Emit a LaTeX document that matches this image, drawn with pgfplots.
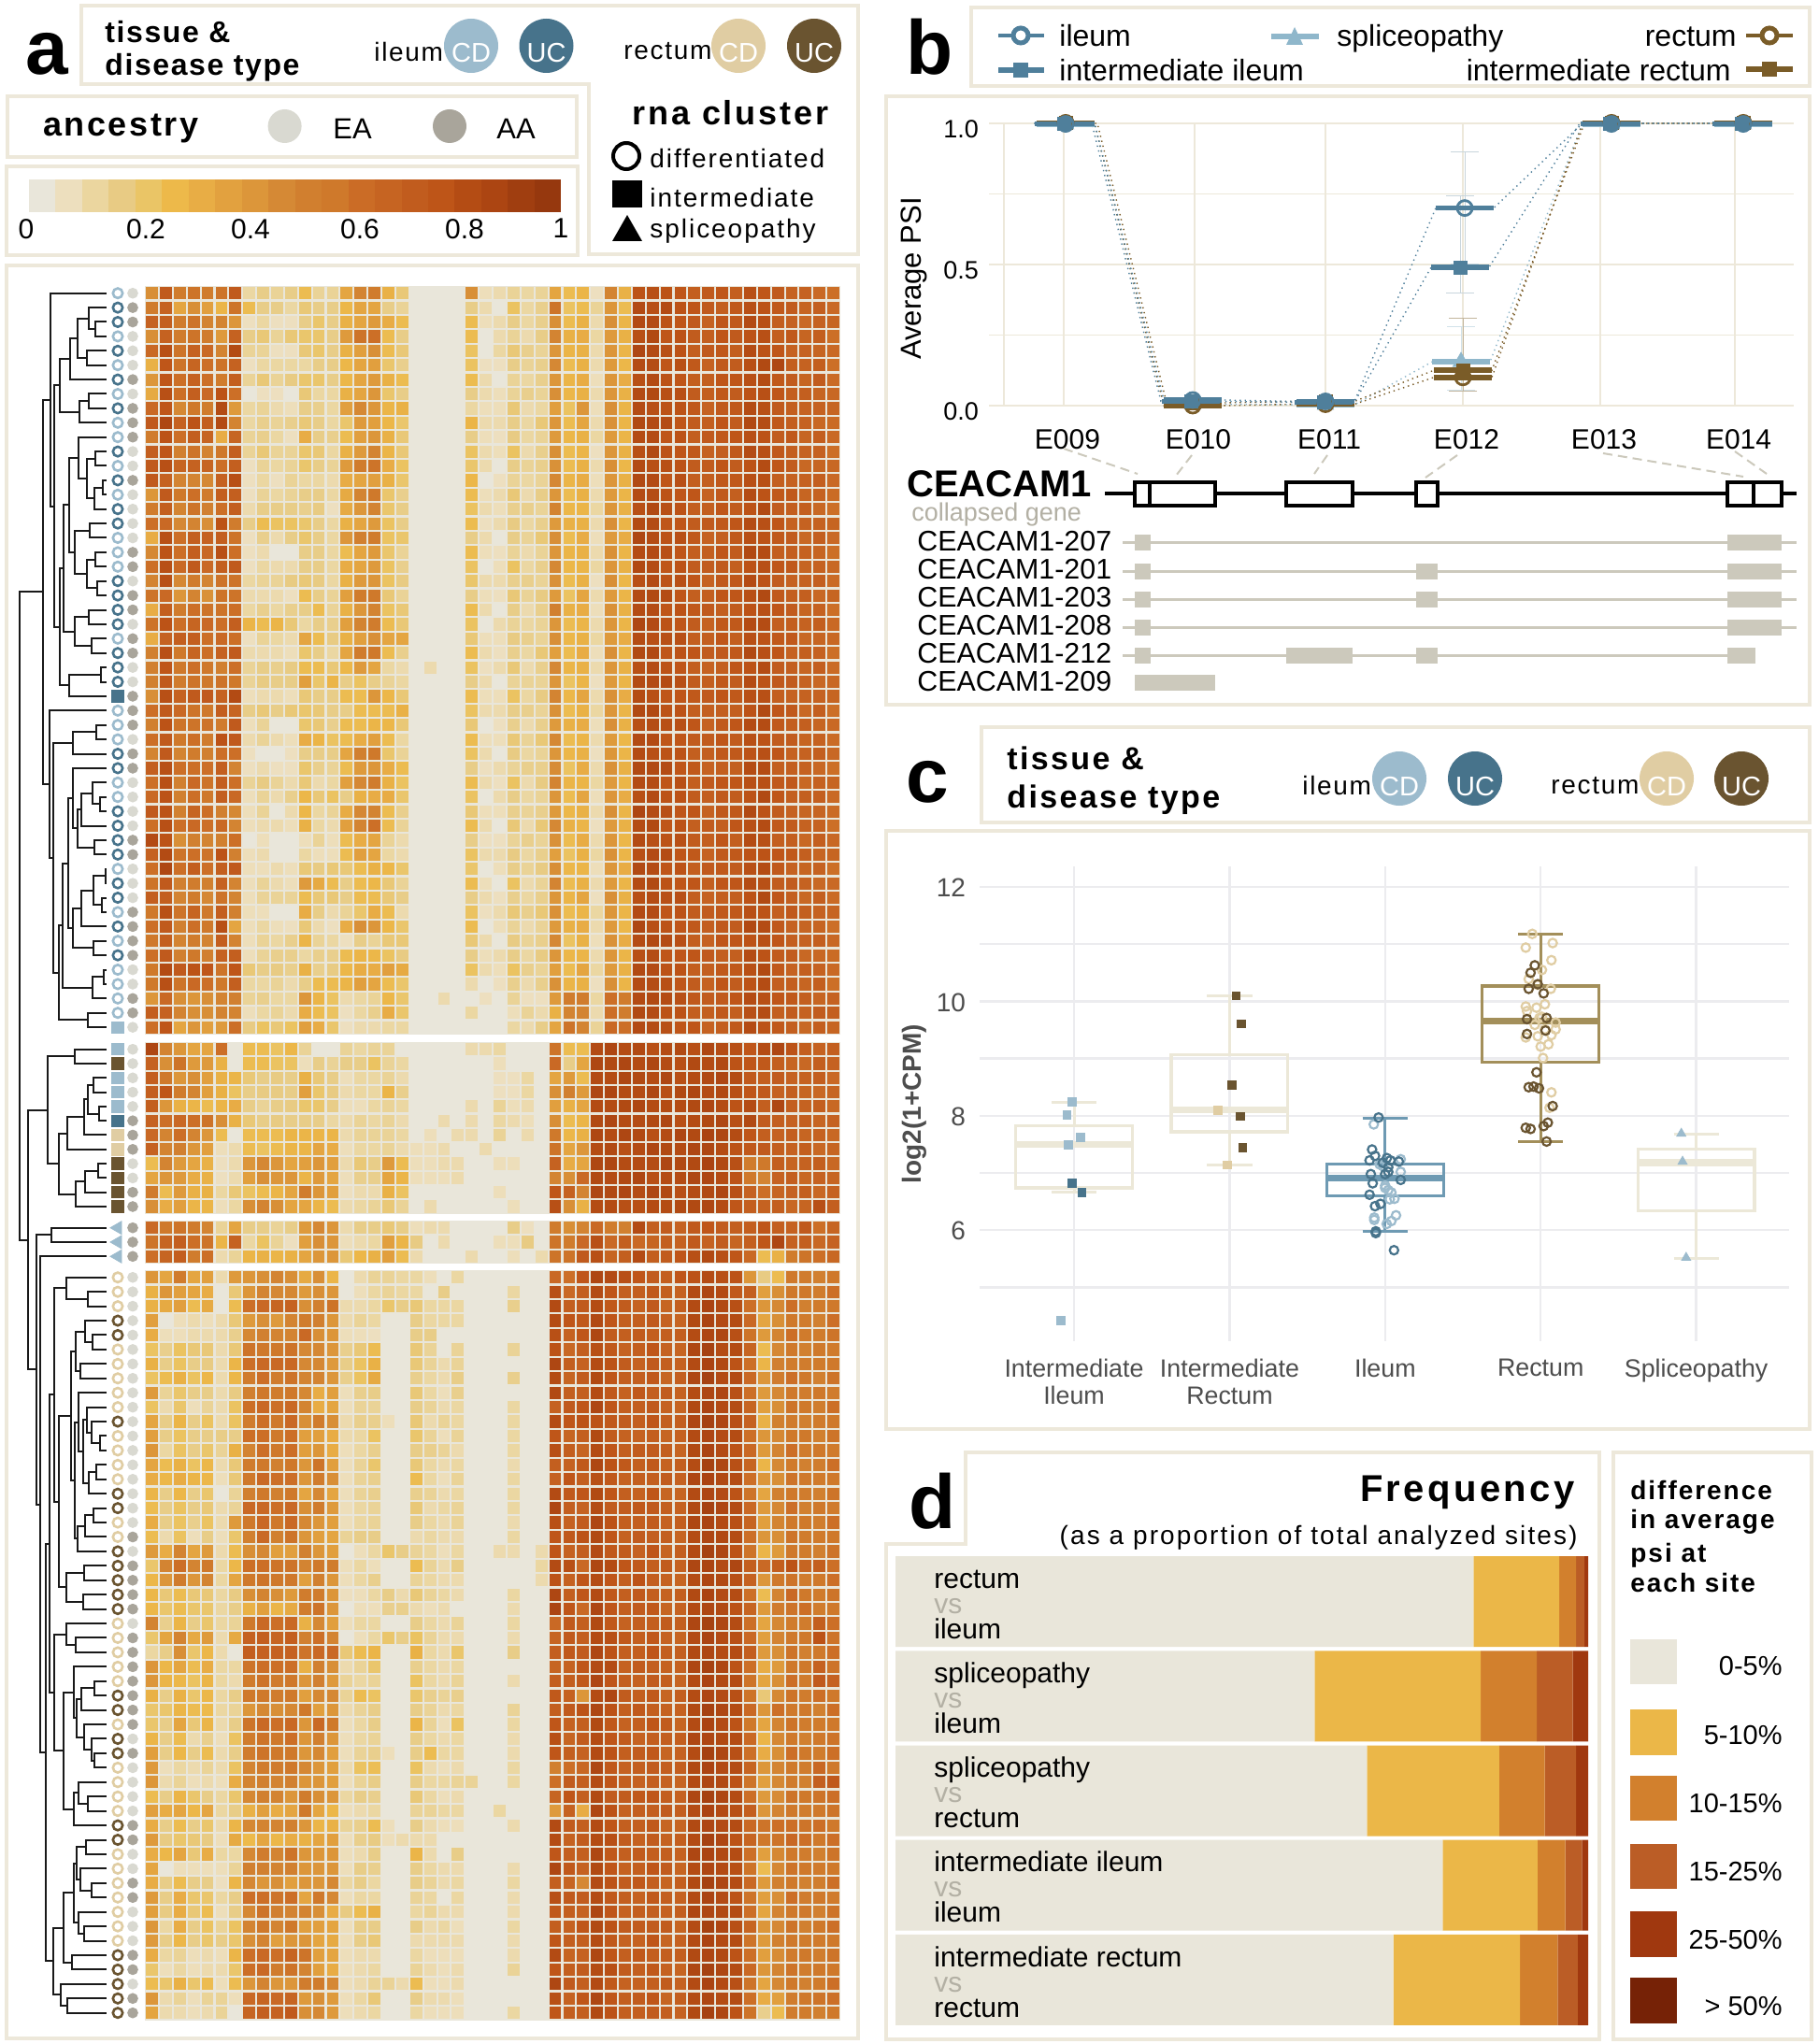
\documentclass[border=0pt]{standalone}
\usepackage{fontspec}
\setmainfont{Liberation Sans}
\usepackage{pgfplots}
\usepackage{pgfplotstable}
\pgfplotsset{compat=1.18}
\usepgfplotslibrary{statistics}
\definecolor{fr}{HTML}{EDE8DA}
\definecolor{zero}{RGB}{233,230,218}
\definecolor{ic}{HTML}{9CBBCD}
\definecolor{iu}{HTML}{47738B}
\definecolor{rc}{HTML}{E0CDA3}
\definecolor{ru}{HTML}{6A5430}
\definecolor{ea}{HTML}{D9D9D1}
\definecolor{aa}{HTML}{A9A59B}
\definecolor{bi}{HTML}{4F7F9B}
\definecolor{bs}{HTML}{8FB7CB}
\definecolor{br}{HTML}{7A5C28}
\definecolor{gr}{HTML}{CCC9BC}
\definecolor{grl}{HTML}{B3B0A4}
\definecolor{gc}{HTML}{ECECEF}
\definecolor{bb}{HTML}{ECE8D8}
\definecolor{bil}{HTML}{6E9AB3}
\definecolor{bre}{HTML}{A38F5A}
\definecolor{d0}{HTML}{E9E6DA}
\definecolor{d1}{HTML}{EBB748}
\definecolor{d2}{HTML}{D2802D}
\definecolor{d3}{HTML}{BB5D26}
\definecolor{d4}{HTML}{A0380F}
\definecolor{d5}{HTML}{762206}
\definecolor{tg}{HTML}{4D4D4D}
\pgfplotsset{colormap={psi}{rgb255=(233,230,218) rgb255=(237,223,190) rgb255=(235,214,159) rgb255=(232,203,132) rgb255=(234,197,102) rgb255=(237,185,74) rgb255=(232,173,69) rgb255=(226,161,63) rgb255=(220,150,58) rgb255=(213,137,53) rgb255=(209,127,47) rgb255=(207,121,43) rgb255=(203,108,38) rgb255=(198,100,34) rgb255=(193,92,30) rgb255=(190,85,24) rgb255=(180,76,20) rgb255=(172,69,18) rgb255=(160,62,16) rgb255=(150,56,14)}}
\newcommand\fs[1]{\fontsize{#1pt}{#1pt}\selectfont}
\newcommand\LS[1]{\addfontfeatures{LetterSpace=#1}}
\pgfmathdeclarefunction{rowy}{1}{\pgfmathparse{#1<52?306+(#1+.5)*15.4:(#1<64?1115+(#1-52+.5)*15.3:(#1<67?1306+(#1-64+.5)*15.3:1359+(#1-67+.5)*15.43))}}
\pgfdeclareplotmark{cell}{\pgfpathrectangle{\pgfpoint{-3.2pt}{-3.3pt}}{\pgfpoint{6.4pt}{6.6pt}}\pgfusepathqfill}
\pgfdeclareplotmark{lbar}{\pgfpathrectangle{\pgfpoint{-7.12pt}{-8.75pt}}{\pgfpoint{14.24pt}{17.5pt}}\pgfusepathqfill}
\newcount\leafc \leafc=0
\def\L{\pgfmathsetmacro\tmp{rowy(\the\leafc)}\xdef\retY{\tmp}\xdef\retX{114}\global\advance\leafc by 1 }
\def\N#1#2#3{\begingroup #2\let\ya\retY\let\xa\retX #3\let\yb\retY\let\xb\retX
\draw[line width=1pt,black!90] (\xa,\ya)--(#1,\ya)--(#1,\yb)--(\xb,\yb);
\pgfmathsetmacro\tmp{(\ya+\yb)/2}\xdef\retY{\tmp}\xdef\retX{#1}\endgroup}
\def\TP{\N{64}{\N{75}{\N{83}{\N{95}{\L}{\N{102}{\L}{\L}}}{\N{93}{\L}{\L}}}{\L}}{\N{85}{\N{95}{\L}{\L}}{\L}}}
\def\TQa{\N{84}{\L}{\N{93}{\N{102}{\L}{\L}}{\N{101}{\N{110}{\L}{\L}}{\L}}}}
\def\TQb{\N{80}{\N{96}{\L}{\L}}{\N{93}{\N{102}{\L}{\L}}{\N{104}{\L}{\L}}}}
\def\TQc{\N{80}{\N{95}{\L}{\L}}{\N{98}{\L}{\L}}}
\def\TQ{\N{64}{\N{68}{\N{74}{\TQa}{\TQb}}{\TQc}}{\N{74}{\N{108}{\L}{\L}}{\L}}}
\def\TX{\N{54}{\L}{\N{58}{\TP}{\TQ}}}
\def\TYa{\N{78}{\L}{\N{83}{\N{87}{\N{99}{\L}{\N{107}{\L}{\L}}}{\L}}{\N{101}{\L}{\L}}}}
\def\TYb{\N{78}{\N{87}{\N{100}{\N{113}{\L}{\L}}{\N{109}{\L}{\L}}}{\L}}{\N{100}{\L}{\L}}}
\def\TYc{\N{99}{\N{111}{\L}{\L}}{\L}}
\def\TY{\N{53}{\L}{\N{57}{\N{78}{\N{103}{\L}{\L}}{\L}}{\N{63}{\N{67}{\N{73}{\TYa}{\TYb}}{\TYc}}{\N{94}{\L}{\L}}}}}
\def\TB{\N{51}{\N{80}{\L}{\L}}{\N{63}{\N{72}{\N{90}{\N{94}{\N{100}{\L}{\L}}{\N{106}{\L}{\L}}}{\L}}{\L}}{\N{81}{\N{91}{\N{105}{\L}{\L}}{\L}}{\L}}}}
\def\TDa{\N{84}{\L}{\N{89}{\N{93}{\L}{\N{98}{\L}{\N{107}{\L}{\L}}}}{\N{95}{\N{103}{\L}{\L}}{\L}}}}
\def\TDb{\N{83}{\N{91}{\N{100}{\L}{\L}}{\L}}{\L}}
\def\TDc{\N{76}{\N{81}{\N{91}{\L}{\N{99}{\L}{\L}}}{\N{86}{\L}{\L}}}{\N{80}{\TDa}{\TDb}}}
\def\TDd{\N{58}{\N{71}{\L}{\N{94}{\L}{\L}}}{\N{63}{\TDc}{\N{71}{\N{90}{\L}{\L}}{\N{89}{\L}{\L}}}}}
\def\TDe{\N{79}{\L}{\N{82}{\N{87}{\N{101}{\L}{\L}}{\L}}{\N{90}{\L}{\N{98}{\L}{\N{101}{\L}{\L}}}}}}
\def\TDf{\N{79}{\N{84}{\L}{\N{94}{\L}{\L}}}{\L}}
\def\TDg{\N{58}{\N{71}{\L}{\N{81}{\L}{\L}}}{\N{68}{\TDe}{\TDf}}}
\def\TDh{\N{57}{\N{68}{\N{79}{\N{82}{\N{92}{\L}{\L}}{\N{86}{\L}{\N{98}{\L}{\L}}}}{\N{84}{\L}{\N{90}{\L}{\L}}}}{\N{77}{\L}{\L}}}{\N{65}{\L}{\N{72}{\L}{\L}}}}
\def\TD{\N{49}{\N{53}{\TDd}{\TDg}}{\TDh}}
\def\Tree{\N{21}{\N{46}{\TX}{\TY}}{\N{30}{\TB}{\N{39}{\N{55}{\L}{\L}}{\N{43}{\L}{\TD}}}}}
\newcommand\anno[3]{\addplot[only marks,#2] table[x expr=#1,y expr={rowy(\thisrowno{0})},header=false,row sep=crcr]{#3};}
\newcommand\lin[4]{\addplot[forget plot,line width=#4,color=gr] coordinates {(#1,#3)(#2,#3)};}
\newcommand\T[3]{\node[anchor=base west,inner sep=0pt] at (#1,#2) {#3};}
\newcommand\TR[3]{\node[anchor=base east,inner sep=0pt] at (#1,#2) {#3};}
\newcommand\TC[3]{\node[anchor=base,inner sep=0pt] at (#1,#2) {#3};}
\pgfplotstableread[header=false]{
45 75 55 60 55 60 75 10 15 12 15 25 12 12 35 50 55 30 18 0 0 0 0 45 6 8 12 10 12 35 25 28 5 50 30 80 82 80 78 72 75 78 72 82 78 75 70 70 65 62
55 70 35 45 38 28 60 25 15 15 10 18 15 15 27 35 35 15 12 0 0 0 0 15 8 0 22 10 14 60 22 25 12 42 25 85 82 85 80 78 75 72 76 82 80 76 74 68 72 65
70 72 55 60 50 50 42 5 10 5 5 15 20 15 30 35 40 32 25 0 0 0 0 25 6 8 15 10 14 45 25 30 8 45 28 85 85 80 78 75 70 78 76 85 82 72 70 65 70 68
45 70 55 60 55 40 70 15 18 12 18 20 20 15 40 60 62 25 15 0 0 0 0 25 0 8 12 8 15 50 30 32 10 40 30 82 86 78 80 74 72 78 75 80 82 72 76 68 72 62
65 82 60 70 65 50 85 12 12 5 5 18 20 15 30 38 45 25 18 0 0 0 0 22 0 10 18 14 12 42 28 30 8 42 28 88 85 82 80 72 75 76 72 84 80 78 70 70 68 65
30 78 60 68 62 60 70 5 10 10 10 10 15 15 27 35 38 20 14 0 0 0 0 22 5 5 15 12 14 48 25 30 8 40 27 84 84 78 82 76 70 75 74 82 86 88 72 70 72 62
42 78 62 70 62 55 72 12 18 12 16 20 20 15 27 35 40 30 25 0 0 0 0 25 8 0 12 10 14 42 28 32 6 42 32 82 85 80 78 72 72 78 78 82 84 76 74 68 74 64
33 82 62 72 65 80 62 0 5 5 0 18 10 10 30 35 42 20 15 0 0 0 0 15 8 6 12 14 12 45 27 30 8 42 30 85 86 82 82 74 72 76 74 80 82 78 72 72 68 66
65 78 48 58 55 85 40 10 12 8 6 15 14 10 38 48 42 28 30 0 0 0 0 10 6 6 18 8 10 38 22 42 6 45 28 84 82 80 80 76 70 75 76 84 82 75 72 70 70 68
75 88 70 80 72 85 50 10 14 12 14 18 15 10 20 40 38 27 20 0 0 0 0 28 8 8 15 10 18 42 25 35 8 44 28 86 85 84 78 74 72 78 74 86 84 76 72 70 66 64
55 80 62 72 68 32 68 12 14 10 5 32 15 14 25 38 42 30 18 0 0 0 0 15 6 5 16 10 12 40 27 30 10 40 28 84 84 78 80 72 75 76 78 82 80 74 76 68 72 65
72 78 52 60 50 58 72 12 18 12 12 20 18 10 30 40 50 28 18 0 0 0 0 22 8 6 22 8 14 45 25 28 5 42 30 82 86 80 78 76 70 72 76 84 82 76 72 70 70 62
75 82 68 70 68 62 72 5 12 10 12 20 15 12 40 55 60 32 22 0 0 0 0 20 8 0 15 12 14 44 25 30 8 45 27 85 82 82 80 74 74 78 74 80 84 78 74 66 68 66
75 70 50 50 48 70 82 5 10 5 12 10 10 8 32 35 38 30 20 0 0 0 0 27 0 5 12 10 12 48 28 32 6 42 30 86 85 78 82 72 72 76 76 82 82 72 70 70 72 65
42 75 58 62 56 72 72 5 12 10 12 15 15 10 33 50 58 20 14 0 0 0 0 25 6 8 18 8 15 42 25 30 8 40 28 84 84 80 78 78 70 75 72 84 80 76 76 68 70 64
55 72 50 60 52 62 72 8 15 15 15 14 16 5 33 42 50 20 15 0 0 0 0 22 8 6 14 14 12 50 27 28 10 42 30 82 86 82 80 72 72 78 74 80 86 74 72 72 66 62
62 65 48 50 45 80 55 15 25 22 22 20 15 10 30 35 40 22 15 0 0 0 0 25 5 8 16 10 14 40 30 30 8 45 28 85 85 78 78 74 75 76 78 84 82 78 70 70 70 68
32 82 62 72 70 72 60 5 14 8 15 20 15 10 42 52 55 22 20 0 0 0 0 15 8 0 15 12 18 45 25 32 6 40 32 88 84 80 82 76 70 72 76 82 80 76 74 66 72 65
48 80 62 72 66 82 62 5 8 0 0 15 15 10 25 35 40 20 12 0 0 0 0 25 6 5 12 8 12 42 28 30 8 44 28 84 85 82 78 72 72 78 74 86 84 72 72 70 68 62
62 82 65 75 65 72 75 5 10 8 8 15 15 10 32 35 40 22 14 0 0 0 0 22 0 6 22 10 14 48 27 28 10 42 30 86 84 78 80 74 74 75 72 80 82 78 76 68 70 66
50 82 48 55 50 60 60 10 12 12 16 18 16 10 30 40 42 22 16 0 0 0 0 20 8 8 14 14 12 44 25 30 5 45 27 82 85 80 82 78 70 76 76 84 80 74 70 70 72 64
60 65 42 50 44 60 60 8 8 8 5 25 15 12 38 55 58 18 12 0 0 0 0 15 6 5 18 12 16 40 22 35 8 40 28 85 86 84 78 72 72 78 78 82 86 76 72 72 66 68
32 72 55 62 60 60 62 10 14 10 14 15 25 12 30 42 50 22 18 0 0 0 0 25 8 0 15 8 14 52 30 32 6 44 30 84 84 78 80 76 75 72 74 80 82 78 74 68 70 62
60 80 62 68 65 62 72 28 25 28 18 10 15 14 38 50 55 25 18 0 0 0 0 22 0 8 12 10 12 42 25 28 8 42 28 88 85 80 78 74 70 76 76 84 84 72 72 70 72 65
32 70 72 72 62 65 62 5 12 10 8 35 25 16 30 38 45 35 35 0 0 0 0 18 6 6 16 14 12 45 27 30 10 40 32 84 82 82 82 72 72 78 72 82 80 76 76 66 68 66
52 82 58 68 62 70 75 8 8 8 6 20 15 10 35 55 58 25 14 0 0 0 0 25 8 5 14 10 18 38 25 32 6 45 28 86 86 78 80 78 74 75 76 86 82 78 70 72 70 62
52 78 58 62 58 52 62 12 15 14 16 25 25 18 27 40 35 10 8 0 8 0 0 22 5 8 18 8 14 48 28 30 8 42 30 82 84 80 78 72 70 72 78 80 84 74 72 68 72 64
52 75 55 60 58 60 58 12 16 15 15 38 20 28 15 22 15 12 10 0 0 0 0 15 8 0 12 12 12 42 22 28 5 40 28 85 85 84 82 74 72 76 74 84 80 76 74 70 66 66
45 82 70 75 75 70 85 6 8 8 6 18 15 15 25 25 42 27 18 0 0 0 0 25 6 6 22 10 16 50 27 35 8 44 32 84 82 78 78 76 75 78 76 82 82 72 70 70 70 68
62 75 65 60 58 72 68 15 18 15 18 20 18 15 15 25 25 25 30 0 0 0 0 22 8 8 15 14 12 44 25 30 10 42 28 86 86 80 80 72 72 72 72 80 86 78 76 66 72 62
52 80 60 60 60 55 75 6 12 0 0 20 18 14 25 25 28 27 18 0 0 0 0 18 0 5 14 8 14 40 30 32 6 45 30 82 84 82 82 78 70 75 78 84 84 76 72 72 68 65
62 75 58 62 55 80 75 8 12 8 6 32 28 22 25 32 38 25 10 0 0 0 0 25 6 6 18 12 18 48 25 28 8 40 27 85 85 78 78 74 74 78 74 82 80 74 74 68 70 64
50 75 50 55 52 62 62 5 0 0 5 15 15 15 35 52 58 20 12 0 0 0 0 22 8 0 16 10 12 42 27 30 5 42 28 84 82 80 80 72 72 76 76 80 82 78 70 70 72 66
72 82 62 62 62 72 50 5 8 5 5 20 14 12 25 40 42 32 25 0 0 0 0 15 5 8 12 14 14 46 22 32 8 44 30 86 86 84 78 76 70 72 72 84 84 72 72 70 66 62
62 82 52 65 60 72 62 12 16 12 8 18 8 10 38 48 55 30 22 0 0 0 0 25 8 5 22 8 16 50 28 28 10 40 28 84 84 78 82 72 75 78 78 82 82 76 76 66 70 68
65 80 52 62 58 72 65 6 12 8 14 27 18 22 15 30 32 32 20 0 0 0 0 22 0 8 15 10 12 42 25 35 6 42 32 82 85 80 80 74 72 75 74 80 86 78 72 72 72 65
75 80 52 68 62 52 48 6 12 0 8 27 10 12 32 48 50 25 14 0 0 0 0 18 6 6 14 12 14 40 27 30 8 45 28 88 84 82 78 78 70 76 76 86 80 74 70 68 68 64
62 82 62 65 62 65 50 6 8 8 6 30 10 8 38 50 62 25 12 0 0 0 0 25 8 0 18 8 18 48 30 28 5 40 30 84 86 78 80 72 74 72 78 82 84 76 74 70 70 62
85 80 45 52 50 52 62 0 6 0 0 6 12 6 25 32 35 12 8 0 0 0 0 15 5 5 12 14 12 44 25 32 8 42 27 85 82 80 82 74 72 78 72 84 82 72 72 66 72 66
70 85 60 62 60 80 52 6 8 0 0 10 6 6 25 38 35 10 8 0 0 0 0 22 8 8 16 10 14 38 22 30 10 44 28 82 85 84 78 76 70 75 76 80 80 78 76 72 68 68
62 88 62 72 62 72 75 6 6 8 6 18 16 18 18 25 30 27 20 0 0 0 0 20 0 6 15 12 16 45 27 28 6 42 32 86 84 78 80 72 75 76 74 82 84 76 70 68 70 62
60 75 52 55 52 70 50 6 12 8 6 40 33 25 15 25 27 18 12 0 0 0 0 25 6 0 22 8 12 50 25 30 8 40 28 84 86 80 78 78 72 78 78 84 82 74 74 70 66 65
72 72 50 55 48 60 50 6 12 12 12 25 18 18 15 25 25 18 15 0 0 0 0 15 8 5 14 10 14 42 28 35 5 45 30 82 84 82 82 72 70 72 72 80 86 78 72 66 72 64
58 82 60 68 58 72 52 6 6 0 0 32 15 8 12 20 32 25 8 0 0 0 0 22 5 8 18 14 18 44 25 28 10 42 28 85 85 78 80 74 74 76 76 82 80 72 76 72 70 68
62 75 52 62 58 82 35 6 10 6 5 18 8 5 32 45 42 27 20 0 0 0 0 25 0 6 12 8 12 40 30 32 8 40 27 88 82 80 78 76 72 75 74 86 84 76 70 68 68 62
58 72 50 55 50 72 50 6 12 10 14 28 12 10 5 15 12 18 18 0 0 0 0 18 8 0 16 12 14 48 22 30 6 44 32 84 86 84 82 72 70 78 78 80 82 78 72 70 72 66
62 75 52 58 52 70 72 6 12 14 14 10 14 14 25 28 27 22 16 0 0 0 0 15 6 8 15 10 16 42 27 28 8 42 28 82 84 78 78 78 75 72 72 84 80 74 74 66 66 64
58 85 75 80 78 60 78 18 15 16 14 30 14 16 27 32 32 38 33 0 0 0 0 22 8 6 22 14 12 38 25 35 10 40 30 86 85 80 80 72 72 76 76 82 86 76 70 72 70 65
58 82 60 65 62 58 72 10 10 12 8 15 25 25 28 38 35 25 20 0 0 0 0 8 0 5 14 8 14 44 28 30 5 45 28 84 84 82 78 74 70 78 74 80 84 72 72 68 72 62
42 65 45 42 45 50 52 12 14 10 10 42 28 22 8 10 12 27 20 0 0 8 0 0 5 0 12 5 5 40 55 55 10 62 55 85 86 84 82 76 74 75 78 84 82 78 76 72 68 70
72 70 50 45 45 50 50 6 10 12 8 32 25 22 5 10 14 32 20 0 0 0 0 10 0 0 6 12 8 30 50 50 8 62 55 86 85 80 80 72 72 76 72 82 84 72 74 70 74 72
62 78 35 42 38 40 62 16 22 18 22 38 32 20 5 8 8 10 10 0 0 0 0 0 0 0 10 8 15 35 60 50 12 65 62 85 84 82 78 78 70 72 76 84 80 76 72 66 72 68
88 50 42 35 35 62 0 25 25 22 27 12 0 0 12 10 12 12 0 0 0 0 0 8 8 10 0 0 0 60 25 25 85 88 84 86 82 84 86 82 88 84 82 78 84 88 80 72 70 72
70 45 60 40 40 30 0 25 25 22 22 6 15 12 15 15 22 12 10 0 0 0 0 0 0 6 0 0 0 65 15 35 88 86 88 84 88 84 82 86 84 86 80 78 76 72 68 66 72 70
72 58 42 45 38 30 28 18 15 16 15 30 18 15 6 10 10 12 8 0 0 0 0 0 0 5 5 10 0 35 40 25 85 84 88 86 84 88 82 84 86 88 84 75 72 74 70 70 72 65
72 78 55 50 38 30 22 15 16 16 15 38 20 16 8 10 10 28 14 0 0 0 0 0 0 5 5 10 0 45 52 40 88 88 84 84 88 82 86 88 84 86 82 78 75 70 72 68 66 68
72 42 30 28 25 28 32 15 12 15 16 20 20 15 6 6 10 12 10 0 0 0 0 8 0 12 6 8 0 38 30 35 85 84 86 88 84 84 84 86 88 84 80 84 72 88 72 70 72 66
70 62 65 62 60 45 30 18 15 16 15 15 15 10 8 12 10 12 8 0 0 8 0 8 0 10 8 6 0 45 25 28 86 88 84 84 86 88 82 84 86 88 82 86 74 72 70 72 68 70
65 50 62 50 42 25 0 25 25 25 28 28 28 28 8 12 12 12 10 0 6 0 8 8 0 12 0 8 0 58 27 30 88 84 88 86 82 84 88 86 90 88 84 78 72 70 72 68 70 66
70 50 52 42 38 6 8 25 22 25 28 28 35 32 6 10 10 12 8 6 6 8 0 0 8 0 0 0 0 60 35 42 84 86 82 84 88 86 84 88 88 84 80 76 75 72 70 72 66 68
25 50 40 35 30 5 8 42 48 42 35 38 42 38 8 18 15 40 25 6 6 8 8 0 0 6 6 0 0 70 32 35 88 88 84 84 84 88 86 86 90 86 82 55 58 72 68 70 72 66
35 42 40 32 30 5 8 38 45 42 42 28 40 35 6 14 14 35 28 6 6 6 8 0 0 0 0 0 0 50 45 65 86 84 86 88 82 84 84 88 88 84 80 58 50 70 72 66 70 68
55 25 40 30 30 10 18 22 25 28 35 55 42 38 5 8 8 30 22 0 0 0 0 0 0 6 0 0 0 78 70 50 88 86 88 84 88 86 82 84 86 88 82 70 62 68 70 72 66 70
45 32 38 28 28 6 10 45 50 45 35 35 28 25 8 10 12 18 12 0 8 0 0 0 0 0 6 0 0 82 45 30 84 84 82 82 84 84 86 86 88 84 78 72 70 72 66 68 82 72
65 58 60 55 50 12 35 15 15 12 15 40 48 42 8 15 15 18 15 6 8 8 0 0 0 0 15 5 0 55 45 50 65 55 52 85 72 74 70 75 78 74 72 72 78 72 70 75 62 68
60 68 72 62 60 28 70 10 22 12 5 38 45 42 6 8 10 38 28 16 0 8 0 0 0 6 6 16 0 60 55 65 82 65 72 65 68 72 70 75 70 74 68 72 78 88 70 72 66 70
62 68 72 55 62 8 12 28 30 28 30 35 42 42 18 27 30 38 25 8 0 0 0 8 0 0 6 0 8 60 60 75 82 68 72 85 72 74 78 82 86 82 78 65 25 30 55 60 62 66
42 35 55 35 38 8 40 42 45 50 45 33 45 28 0 8 12 12 10 10 6 0 10 0 0 0 0 0 0 65 62 78 88 85 82 78 74 72 78 80 84 82 80 42 16 25 58 55 52 58
30 42 38 35 32 0 18 42 50 48 48 40 45 42 0 6 10 12 10 10 0 15 0 0 0 0 10 0 0 82 65 72 85 78 72 72 76 72 70 85 88 85 76 72 38 45 58 58 55 62
30 33 38 25 33 0 25 62 65 68 70 45 52 60 8 8 10 20 15 18 10 10 10 0 0 0 14 0 0 85 72 75 84 76 74 70 75 68 72 85 90 86 82 62 42 48 62 52 56 58
38 0 6 8 6 8 18 40 45 40 50 55 52 42 8 12 10 0 0 15 10 10 10 0 0 0 0 0 0 84 78 76 86 78 72 72 75 70 68 86 90 85 84 65 35 45 58 55 52 62
32 6 6 8 8 8 14 48 52 50 50 65 45 42 6 6 5 0 0 15 15 0 0 0 0 0 0 0 0 82 70 78 88 74 72 74 72 72 72 84 88 88 82 60 40 50 62 56 55 60
22 14 22 18 18 8 18 60 58 58 60 48 48 42 14 18 25 0 0 18 12 0 12 0 0 0 12 0 0 80 66 72 82 76 70 72 78 70 68 88 92 84 84 68 25 48 58 52 58 56
30 15 22 15 16 8 28 62 65 65 65 48 48 40 15 22 30 0 0 18 12 8 12 0 0 0 0 0 0 88 72 70 84 80 74 70 75 72 70 85 90 86 80 62 28 52 55 55 56 58
22 25 30 22 27 8 27 55 62 55 60 50 50 42 14 22 33 0 0 14 10 8 15 0 0 0 14 0 0 84 68 74 86 78 72 72 76 68 72 88 92 85 85 65 42 55 62 58 52 60
40 12 20 15 15 8 16 52 58 55 58 48 32 38 6 14 15 0 0 18 10 6 14 0 0 0 0 0 0 86 72 72 84 76 70 76 72 74 70 84 88 88 82 62 40 48 58 55 58 55
22 8 20 6 12 8 22 62 65 62 65 50 32 35 6 12 12 0 0 15 12 8 10 0 0 0 10 0 0 70 75 78 88 78 72 72 75 70 68 86 90 85 84 68 38 45 60 58 54 62
35 15 28 15 22 8 22 55 62 58 65 45 55 45 8 14 14 6 0 18 8 12 10 0 0 0 10 0 0 84 78 80 80 76 74 72 78 72 72 88 92 88 82 70 30 52 55 52 56 58
38 15 22 15 15 15 15 62 62 58 62 38 38 32 8 10 22 0 0 20 12 6 12 0 0 0 10 0 0 78 68 72 86 74 70 70 72 68 70 85 88 84 84 62 42 48 58 58 52 60
42 10 22 15 20 12 30 50 62 58 62 38 42 32 6 10 14 0 0 15 14 12 8 0 0 0 10 0 0 82 72 68 84 78 72 74 74 72 68 86 90 85 80 65 40 50 62 55 58 56
35 25 30 22 27 8 18 55 58 52 58 42 60 38 6 12 20 0 0 18 10 8 10 0 0 0 8 0 0 72 70 76 88 80 76 72 76 70 72 84 92 88 82 68 28 48 56 52 54 62
32 27 32 28 27 6 18 58 65 62 62 42 55 45 6 12 14 0 0 25 10 6 12 0 0 0 10 0 0 70 78 72 82 76 70 72 72 74 70 88 90 86 84 62 42 45 60 58 56 58
28 15 27 15 20 0 12 52 58 52 58 35 48 35 6 12 14 0 0 14 12 8 10 0 0 0 10 0 0 85 75 78 86 78 72 70 78 68 68 85 88 85 80 60 35 52 58 55 52 60
25 15 22 15 18 8 12 65 65 62 65 45 55 40 6 10 12 0 0 18 8 10 12 0 0 0 10 0 0 88 72 70 84 74 74 76 75 72 70 86 92 88 84 65 40 48 62 52 58 56
32 15 22 14 22 8 40 58 65 58 65 48 42 38 6 10 12 0 0 15 10 8 12 0 0 0 8 0 0 82 70 74 88 80 72 72 74 70 72 88 90 85 82 68 38 50 58 58 54 62
25 8 22 6 15 6 20 52 65 52 60 42 38 35 12 15 15 0 0 8 10 8 8 0 0 0 10 0 0 78 76 80 86 78 70 74 72 72 68 84 88 86 84 62 42 45 60 55 56 58
40 32 50 35 40 8 25 45 48 38 38 52 42 38 0 6 10 20 15 12 10 6 10 0 0 8 8 0 8 78 70 72 85 76 74 70 78 68 72 85 92 88 80 60 28 40 58 55 52 60
20 50 62 50 58 10 27 62 62 60 60 50 58 55 6 10 6 0 0 25 12 8 15 0 0 0 0 0 10 85 82 65 88 84 78 76 72 74 70 88 90 85 88 72 65 72 80 68 72 62
27 42 55 42 50 10 35 58 60 58 58 38 52 42 6 10 14 0 0 12 10 8 8 0 0 0 0 0 8 80 70 78 84 78 72 80 72 70 68 84 88 86 82 70 42 58 60 55 58 62
27 18 25 18 18 10 16 45 50 45 40 55 55 42 5 6 10 15 8 18 12 10 8 0 0 0 10 0 0 88 72 78 85 76 72 75 72 70 72 86 90 85 84 62 25 50 65 58 56 60
27 20 25 20 20 10 15 30 38 28 33 55 60 42 0 6 6 14 14 8 6 8 0 0 0 0 8 0 0 90 78 65 88 78 72 74 76 68 70 85 88 86 80 68 40 55 60 62 55 58
50 14 28 15 20 10 12 58 65 62 65 30 48 38 6 10 10 0 0 15 10 8 12 0 0 0 10 0 0 65 75 72 86 76 70 72 72 74 72 88 92 88 84 62 35 48 55 55 72 62
20 35 50 33 40 8 33 70 72 68 72 52 62 50 0 6 10 20 15 22 12 8 8 0 0 0 8 0 0 68 75 72 84 82 76 72 76 70 68 85 90 85 82 65 38 50 58 58 80 60
10 15 45 20 27 8 0 72 70 70 70 60 65 65 18 25 28 0 0 30 10 8 20 0 0 0 15 0 0 72 76 74 88 80 72 72 78 72 72 86 88 84 84 72 40 45 60 52 58 62
42 27 35 25 32 10 10 60 62 62 62 30 52 45 8 12 20 0 0 14 10 8 10 0 0 0 0 0 0 68 70 78 85 84 70 74 72 70 70 88 92 88 80 62 32 40 58 58 70 60
42 28 27 22 28 10 8 55 60 55 58 42 52 40 12 10 12 0 0 22 10 8 12 0 0 0 8 0 0 72 72 76 88 78 72 70 74 72 68 85 90 86 84 60 35 45 62 55 75 70
30 15 30 20 27 10 15 58 58 55 58 38 48 48 12 25 22 0 0 20 14 12 14 0 0 0 0 0 0 76 70 42 84 88 74 72 76 68 72 84 88 85 82 60 18 48 60 55 62 58
20 20 28 25 26 10 12 42 48 45 48 58 38 42 8 12 15 0 0 15 12 8 10 0 0 0 12 0 0 72 75 80 88 80 72 76 72 70 70 86 92 88 84 65 42 62 58 58 52 62
20 15 35 18 28 8 15 60 65 62 65 42 65 58 6 10 15 0 0 28 12 6 22 0 0 0 10 0 0 78 70 72 86 76 70 72 78 74 68 85 90 85 80 58 35 50 60 55 56 58
28 15 25 8 14 6 22 55 60 58 62 42 52 42 6 10 12 0 0 15 10 8 10 0 0 0 8 0 0 82 68 74 84 78 74 70 72 72 72 88 88 86 84 65 28 48 58 52 58 60
38 15 27 15 25 8 15 55 60 58 58 42 48 38 6 12 14 6 0 15 25 10 10 0 0 0 8 0 0 78 72 70 85 80 72 74 76 68 70 84 92 88 82 62 32 45 62 58 55 62
40 6 10 8 12 8 22 50 55 55 58 48 42 38 8 22 24 0 0 22 8 6 8 0 0 0 10 0 0 52 62 66 88 76 70 72 74 72 72 86 90 85 84 68 42 50 58 55 66 58
42 8 12 6 8 6 32 50 52 50 52 42 42 38 6 12 15 0 0 15 10 10 12 12 0 0 10 0 0 62 74 72 84 78 72 70 72 70 68 85 88 86 80 60 38 48 56 52 72 76
25 15 28 20 15 10 20 48 52 50 42 55 45 42 10 15 14 0 0 18 10 6 8 0 0 0 0 0 0 68 78 72 86 74 74 76 78 72 70 88 92 88 84 62 40 46 60 58 60 62
38 32 35 27 35 10 15 30 38 32 35 58 35 27 6 8 10 0 0 12 12 10 10 0 0 10 0 0 0 40 70 32 88 80 70 72 72 74 72 84 90 85 82 72 42 50 58 55 58 60
32 15 25 15 20 8 28 48 50 50 52 42 28 30 12 14 25 6 0 15 8 6 6 0 0 0 8 0 0 85 74 72 85 78 72 72 76 68 68 86 88 85 84 65 60 62 62 60 62 58
40 16 20 18 16 6 33 26 35 27 32 30 35 38 6 14 16 6 8 8 8 0 0 0 0 0 0 0 0 84 70 74 84 82 74 70 74 70 72 85 92 88 80 68 58 60 66 62 58 62
32 27 35 18 32 10 10 48 55 50 60 42 42 42 6 8 15 0 0 28 8 0 15 0 0 0 0 0 0 78 72 72 88 76 72 74 72 72 70 88 90 86 84 62 38 48 58 55 52 60
35 0 6 6 6 6 12 52 52 50 52 42 42 42 6 15 14 0 0 15 10 8 8 0 0 0 8 0 0 88 76 70 86 78 70 72 78 74 68 84 88 85 82 60 25 48 60 58 56 58
32 15 25 15 15 5 28 48 42 45 38 42 42 48 10 15 10 0 0 15 12 8 10 0 0 0 10 0 0 72 68 48 85 80 74 76 72 68 72 86 92 88 84 65 40 52 58 52 54 62
40 15 32 20 20 10 15 62 62 60 62 35 58 48 6 10 10 0 0 12 10 0 10 0 0 0 8 0 0 82 75 74 84 76 72 70 76 72 70 85 90 85 80 60 38 45 62 55 58 56
38 16 32 18 25 6 15 48 60 52 50 50 45 32 16 25 30 0 0 10 12 8 8 0 0 0 8 0 0 76 72 70 88 78 70 72 72 70 72 88 88 86 84 62 35 50 58 58 52 60
42 10 32 15 22 12 22 50 58 50 58 38 38 35 6 15 15 0 0 15 8 10 6 0 0 0 10 0 0 72 70 78 86 80 74 74 74 74 68 84 92 88 82 68 42 48 60 52 58 62
40 15 27 15 20 15 20 45 50 38 42 42 35 33 6 15 18 0 0 8 8 8 8 0 0 0 8 0 0 78 72 72 84 76 70 70 78 68 70 85 90 85 84 60 40 52 58 55 56 58
32 10 12 6 8 6 28 62 65 62 68 60 38 35 6 8 8 0 0 10 6 6 6 0 0 0 8 0 0 85 68 70 88 78 72 76 72 72 72 86 88 86 80 62 38 46 56 58 54 60
20 6 10 6 8 8 20 62 65 55 60 50 38 32 6 8 10 0 0 12 8 6 8 0 0 0 12 0 0 78 72 74 84 82 74 72 76 70 68 88 92 88 84 65 42 50 60 55 58 58
25 20 30 20 25 6 25 42 50 42 42 55 55 48 6 8 12 12 8 25 6 6 8 0 0 0 0 0 0 88 75 72 85 76 70 70 72 74 70 85 90 85 82 60 35 48 58 52 56 62
42 8 12 6 12 12 6 65 68 65 68 40 45 40 6 10 18 0 0 15 8 8 6 0 0 0 0 0 0 82 70 78 88 78 72 74 78 68 72 84 88 84 84 62 32 38 55 58 60 62
35 8 8 6 8 12 0 68 72 70 75 45 48 40 6 8 10 0 0 10 6 6 6 0 0 0 10 0 0 78 72 72 86 80 72 72 74 72 70 86 92 88 80 60 14 25 55 55 52 58
}\hm
\begin{document}
\begin{tikzpicture}
\useasboundingbox (0,0) rectangle (973pt,-1093.5pt);
\fill[white] (0,0) rectangle (973pt,-1093.5pt);
\begin{scope}[x=.5pt,y=-.5pt]
\draw[fr,line width=2pt] (87,6)--(918,6)--(918,272)--(630,272)--(630,90)--(87,90)--cycle;
\draw[fr,line width=2pt] (8,103) rectangle (617,168);
\draw[fr,line width=2pt] (7,178) rectangle (618,273);
\draw[fr,line width=2pt] (7,284) rectangle (918,2181);
\draw[fr,line width=2pt] (1039,8) rectangle (1936,92);
\draw[fr,line width=2pt] (948,103) rectangle (1936,754);
\draw[fr,line width=2pt] (1050,778) rectangle (1936,880);
\draw[fr,line width=2pt] (948,889) rectangle (1936,1529);
\draw[fr,line width=2pt] (1033,1554)--(1711,1554)--(1711,2182)--(948,2182)--(948,1652)--(1033,1652)--cycle;
\draw[fr,line width=2pt] (1726,1554) rectangle (1938,2182);
\fill[zero] (155,306) rectangle (899,1107);
\fill[zero] (155,1115) rectangle (899,1298.6);
\fill[zero] (155,1306) rectangle (899,1352);
\fill[zero] (155,1359) rectangle (899,2161.5);
\end{scope}
% master axis: heat map, annotation columns and isoform tracks in picture pixels
\begin{axis}[at={(0pt,0pt)},anchor=north west,scale only axis,width=973pt,height=1093.5pt,
 xmin=0,xmax=1946,ymin=0,ymax=2187,y dir=reverse,hide axis,clip=false,
 colormap name=psi,point meta min=0,point meta max=100]
\pgfplotsinvokeforeach{0,...,49}{
\addplot[forget plot,scatter,only marks,mark=cell,point meta=explicit,
 scatter/use mapped color={fill=mapped color,draw=none}]
 table[x expr={162.5+14.88*#1},y expr={rowy(\coordindex)},meta index=#1]{\hm};
}
\anno{142}{mark=*,mark size=2.7pt,mark options={fill=ea,draw=ea}}{0\\3\\4\\5\\7\\11\\12\\14\\15\\16\\17\\20\\23\\26\\27\\31\\34\\35\\36\\37\\40\\41\\42\\47\\48\\51\\52\\53\\54\\55\\56\\60\\61\\67\\68\\69\\70\\71\\72\\73\\74\\75\\76\\77\\78\\79\\80\\81\\82\\83\\84\\86\\91\\99\\101\\102\\103\\104\\107\\108\\111\\112\\113\\116\\}
\anno{142}{mark=*,mark size=2.7pt,mark options={fill=aa,draw=aa}}{1\\2\\6\\8\\9\\10\\13\\18\\19\\21\\22\\24\\25\\28\\29\\30\\32\\33\\38\\39\\43\\44\\45\\46\\49\\50\\57\\58\\59\\62\\63\\64\\65\\66\\85\\87\\88\\89\\90\\92\\93\\94\\95\\96\\97\\98\\100\\105\\106\\109\\110\\114\\115\\117\\118\\}
\anno{126}{mark=o,mark size=2.6pt,mark options={draw=ic,line width=1.3pt}}{0\\3\\5\\7\\9\\10\\12\\14\\17\\18\\19\\24\\29\\30\\31\\34\\35\\40\\43\\45\\47\\48\\49\\50\\}
\anno{126}{mark=o,mark size=2.6pt,mark options={draw=iu,line width=1.3pt}}{1\\2\\4\\6\\8\\11\\13\\15\\16\\20\\21\\22\\23\\25\\26\\27\\32\\33\\36\\37\\38\\39\\41\\42\\44\\46\\}
\anno{126}{mark=o,mark size=2.6pt,mark options={draw=rc,line width=1.3pt}}{67\\68\\69\\72\\73\\74\\75\\76\\78\\79\\80\\81\\84\\85\\91\\92\\93\\94\\95\\98\\101\\102\\103\\104\\107\\108\\109\\110\\111\\112\\113\\}
\anno{126}{mark=o,mark size=2.6pt,mark options={draw=ru,line width=1.3pt}}{70\\71\\77\\82\\83\\86\\87\\88\\89\\90\\96\\97\\99\\100\\105\\106\\114\\115\\116\\117\\118\\}
\anno{126}{mark=square*,mark size=3.1pt,mark options={fill=ic,draw=ic}}{51\\52\\54\\55\\56\\}
\anno{126}{mark=square*,mark size=3.1pt,mark options={fill=iu,draw=iu}}{28\\57\\}
\anno{126}{mark=square*,mark size=3.1pt,mark options={fill=rc,draw=rc}}{58\\59\\}
\anno{126}{mark=square*,mark size=3.1pt,mark options={fill=ru,draw=ru}}{53\\60\\61\\62\\63\\}
\anno{126}{mark=triangle*,mark size=4pt,mark options={rotate=90,fill=ic,draw=ic}}{64\\65\\66\\}
% isoform tracks
\lin{1201}{1922}{580}{1.5pt}\lin{1214}{1231}{580}{8.5pt}\lin{1848}{1906}{580}{8.5pt}
\lin{1201}{1922}{611}{1.5pt}\lin{1214}{1231}{611}{8.5pt}\lin{1515}{1538}{611}{8.5pt}\lin{1848}{1906}{611}{8.5pt}
\lin{1201}{1922}{641}{1.5pt}\lin{1214}{1231}{641}{8.5pt}\lin{1515}{1538}{641}{8.5pt}\lin{1848}{1906}{641}{8.5pt}
\lin{1201}{1922}{671}{1.5pt}\lin{1214}{1231}{671}{8.5pt}\lin{1848}{1906}{671}{8.5pt}
\lin{1201}{1878}{701}{1.5pt}\lin{1214}{1231}{701}{8.5pt}\lin{1376}{1447}{701}{8.5pt}\lin{1515}{1538}{701}{8.5pt}\lin{1848}{1878}{701}{8.5pt}
\lin{1214}{1300}{730}{8.5pt}
\end{axis}
% colour scale
\begin{axis}[at={(10pt,-96pt)},anchor=north west,scale only axis,width=295pt,height=17.5pt,
 xmin=20,xmax=610,ymin=0,ymax=1,clip=false,
 colormap name=psi,point meta min=0,point meta max=19,
 xtick={28,156,268,385,497,600},xticklabels={0,0.2,0.4,0.6,0.8,1},tick style={draw=none},ytick=\empty,
 major tick length=0pt,axis line style={draw=none},tick label style={font=\fs{15}}]
\addplot[scatter,only marks,mark=lbar,point meta=explicit,
 scatter/use mapped color={fill=mapped color,draw=none}]
 table[x expr={30.8+28.48*(\thisrowno{0}+.5)},y expr=0.5,meta index=0,header=false,row sep=crcr]
 {0\\1\\2\\3\\4\\5\\6\\7\\8\\9\\10\\11\\12\\13\\14\\15\\16\\17\\18\\19\\};
\end{axis}
% panel b
\begin{axis}[at={(529pt,-66pt)},anchor=north west,scale only axis,width=430.5pt,height=151pt,
 xmin=1058,xmax=1919,ymin=0,ymax=1,clip=false,axis line style={draw=none},tick style={draw=none},
 grid=major,grid style={color=fr,line width=.6pt},
 xtick={1074,1138,1278,1418,1565,1712,1856},xticklabels={,E009,E010,E011,E012,E013,E014},
 ytick={0,.25,.5,.75,1},yticklabels={0.0,,0.5,,1.0},
 major tick length=0pt,
 xticklabel style={font=\fs{15},xshift=2pt,yshift=-9pt},
 yticklabel style={font=\fs{13.5},yshift=-3pt,xshift=-2pt}]
\addplot[forget plot,draw=none,error bars/.cd,y dir=both,y explicit,error mark=-,error bar style={line width=.5pt,color=iu!30},error mark options={rotate=90,mark size=7.5pt,line width=.5pt,color=iu!30}] coordinates {(1567,.70) += (0,.20) -= (0,.20)};
\addplot[forget plot,draw=none,error bars/.cd,y dir=both,y explicit,error mark=-,error bar style={line width=.5pt,color=iu!30},error mark options={rotate=90,mark size=7.5pt,line width=.5pt,color=iu!30}] coordinates {(1562,.49) += (0,.255) -= (0,.09)};
\addplot[forget plot,draw=none,error bars/.cd,y dir=both,y explicit,error mark=-,error bar style={line width=.5pt,color=bs!40},error mark options={rotate=90,mark size=7.5pt,line width=.5pt,color=bs!40}] coordinates {(1563,.155) += (0,.125) -= (0,.1)};
\addplot[forget plot,draw=none,error bars/.cd,y dir=both,y explicit,error mark=-,error bar style={line width=.5pt,color=br!45},error mark options={rotate=90,mark size=7.5pt,line width=.5pt,color=br!45}] coordinates {(1565,.10) += (0,.21) -= (0,.05)};
% dotted profiles run from bar end to bar end
\addplot[forget plot,dotted,line width=.7pt,color=bs] coordinates {(1109,1)(1171,1)(1245,.005)(1307,.005)(1387,.003)(1449,.003)(1532,.155)(1594,.155)(1693,1)(1755,1)(1834,1)(1896,1)};
\addplot[forget plot,dotted,line width=.7pt,color=br] coordinates {(1109,1)(1171,1)(1245,0)(1307,0)(1387,.005)(1449,.005)(1534,.10)(1596,.10)(1693,1)(1755,1)(1834,1)(1896,1)};
\addplot[forget plot,dotted,line width=.7pt,color=br] coordinates {(1112,1)(1174,1)(1248,.01)(1310,.01)(1387,.015)(1449,.015)(1534,.125)(1596,.125)(1695,1)(1757,1)(1834,1)(1896,1)};
\addplot[forget plot,dotted,line width=.7pt,color=bi] coordinates {(1109,1)(1171,1)(1245,.02)(1307,.02)(1387,.015)(1449,.015)(1536,.70)(1598,.70)(1693,1)(1755,1)(1834,1)(1896,1)};
\addplot[forget plot,dotted,line width=.7pt,color=bi] coordinates {(1106,1)(1168,1)(1242,.015)(1304,.015)(1387,.012)(1449,.012)(1531,.49)(1593,.49)(1690,1)(1752,1)(1834,1)(1896,1)};
% crossbars and means
\addplot[only marks,mark=triangle*,mark size=5pt,mark options={fill=bs,draw=bs},error bars/.cd,x dir=both,x fixed=31,error mark=none,error bar style={line width=2.8pt,color=bs}] coordinates {(1140,.997)(1276,.005)(1418,.003)(1563,.155)(1724,.997)(1865,.997)};
\addplot[only marks,mark=o,mark size=4pt,mark options={draw=br,fill=white,line width=1.4pt},error bars/.cd,x dir=both,x fixed=31,error mark=none,error bar style={line width=2.8pt,color=br}] coordinates {(1140,1.002)(1276,0)(1418,.005)(1565,.10)(1724,1.002)(1865,1.002)};
\addplot[only marks,mark=square*,mark size=3.5pt,mark options={fill=br,draw=br},error bars/.cd,x dir=both,x fixed=31,error mark=none,error bar style={line width=2.8pt,color=br}] coordinates {(1140,1.002)(1276,.01)(1418,.015)(1565,.125)(1724,1.002)(1865,1.002)};
\addplot[only marks,mark=o,mark size=4pt,mark options={draw=bi,fill=white,line width=1.4pt},error bars/.cd,x dir=both,x fixed=31,error mark=none,error bar style={line width=2.8pt,color=bi}] coordinates {(1140,.998)(1276,.02)(1418,.015)(1567,.70)(1724,.998)(1865,.998)};
\addplot[only marks,mark=square*,mark size=3.5pt,mark options={fill=bi,draw=bi},error bars/.cd,x dir=both,x fixed=31,error mark=none,error bar style={line width=2.8pt,color=bi}] coordinates {(1138,.998)(1274,.015)(1416,.012)(1562,.49)(1722,.998)(1863,.998)};
\end{axis}
% panel c
\begin{axis}[at={(524pt,-463.5pt)},anchor=north west,scale only axis,width=433pt,height=254pt,
 xmin=.393,xmax=5.597,ymin=4.06,ymax=12.36,clip=false,axis line style={draw=none},tick style={draw=none},
 grid=major,grid style={color=gc,line width=1.2pt},
 xtick={1,2,3,4,5},xticklabels={{Intermediate\\Ileum},{Intermediate\\Rectum},{Ileum},{Rectum},{Spliceopathy}},
 ytick={5,6,7,8,9,10,11,12},yticklabels={,6,,8,,10,,12},
 major tick length=0pt,
 xticklabel style={font=\fontsize{13.4pt}{14.7pt}\selectfont,text=tg,align=center,anchor=north,yshift=-6pt},
 yticklabel style={font=\fs{14},text=tg,xshift=-4pt,yshift=-.5pt},
 boxplot/draw direction=y,
 boxplot/every median/.style={line width=3.6pt},
 boxplot/every whisker/.style={line width=1.5pt},
 boxplot/every box/.style={line width=1.6pt}]
\addplot[color=bb,boxplot prepared={draw position=1,lower whisker=6.66,lower quartile=6.74,median=7.50,upper quartile=7.82,upper whisker=8.24,box extend=.75,whisker extend=.29}] coordinates {};
\addplot[color=bb,boxplot prepared={draw position=2,lower whisker=7.14,lower quartile=7.72,median=8.10,upper quartile=9.07,upper whisker=10.09,box extend=.75,whisker extend=.29}] coordinates {};
\addplot[color=bil,boxplot prepared={draw position=3,lower whisker=5.98,lower quartile=6.60,median=6.91,upper quartile=7.16,upper whisker=7.96,box extend=.75,whisker extend=.29}] coordinates {};
\addplot[color=bre,boxplot prepared={draw position=4,lower whisker=7.55,lower quartile=8.94,median=9.65,upper quartile=10.27,upper whisker=11.18,box extend=.75,whisker extend=.29}] coordinates {};
\addplot[color=bb,boxplot prepared={draw position=5,lower whisker=5.50,lower quartile=6.34,median=7.18,upper quartile=7.42,upper whisker=7.68,box extend=.75,whisker extend=.29}] coordinates {};
\addplot[only marks,mark=square*,mark size=2.2pt,mark options={fill=ic,draw=ic}] coordinates {(.985,8.24)(.954,8.02)(1.042,7.62)(.962,7.49)(.916,4.42)};
\addplot[only marks,mark=square*,mark size=2.2pt,mark options={fill=iu,draw=iu}] coordinates {(.985,6.82)(1.05,6.66)};
\addplot[only marks,mark=square*,mark size=2.2pt,mark options={fill=ru,draw=ru}] coordinates {(2.042,10.10)(2.073,9.61)(2.015,8.54)(2.069,7.99)(2.084,7.45)};
\addplot[only marks,mark=square*,mark size=2.2pt,mark options={fill=rc,draw=rc}] coordinates {(1.923,8.10)(1.985,7.14)};
\addplot[only marks,mark=triangle*,mark size=2.8pt,mark options={fill=ic,draw=ic}] coordinates {(4.904,7.69)(4.912,7.20)(4.935,5.52)};
\addplot[only marks,mark=o,mark size=2.3pt,mark options={draw=ic,line width=1.1pt}] coordinates {(2.927,7.85)(2.965,7.15)(2.985,7.12)(3.10,7.24)(3.10,7.02)(3.0,6.78)(3.02,6.70)(3.04,6.66)(3.06,6.55)(2.93,6.22)(2.93,6.18)(3.07,6.26)(3.04,6.16)(3.01,6.11)(3.0,6.74)(3.03,6.54)};
\addplot[only marks,mark=o,mark size=2.3pt,mark options={draw=iu,line width=1.1pt}] coordinates {(2.958,7.97)(2.916,7.41)(2.90,7.22)(2.935,7.30)(3.011,7.26)(3.034,7.22)(3.088,7.20)(2.908,6.98)(2.92,6.82)(3.00,6.98)(3.02,7.02)(3.10,6.88)(2.90,6.62)(2.97,6.46)(2.935,6.42)(2.94,5.98)(2.94,5.95)(3.057,5.65)(3.02,7.10)(2.985,7.18)};
\addplot[only marks,mark=o,mark size=2.3pt,mark options={draw=rc,line width=1.1pt}] coordinates {(3.946,11.18)(3.904,10.94)(4.077,11.02)(4.069,10.72)(4.008,10.55)(3.923,10.39)(3.98,10.29)(4.065,10.22)(3.904,9.91)(3.912,9.83)(3.973,9.89)(4.027,9.95)(3.992,9.71)(4.008,9.73)(3.962,9.59)(4.096,9.63)(4.069,9.41)(3.981,9.39)(3.904,9.37)(4.096,9.51)(4.05,9.25)(4.0,9.21)(4.015,9.01)(4.069,8.41)(4.057,8.14)(4.027,9.51)};
\addplot[only marks,mark=o,mark size=2.3pt,mark options={draw=ru,line width=1.1pt}] coordinates {(3.962,10.63)(3.935,10.50)(3.981,10.30)(3.923,10.22)(4.019,10.14)(3.912,9.69)(4.038,9.71)(3.912,9.43)(4.031,9.49)(3.973,8.76)(3.923,8.50)(3.954,8.51)(3.989,8.48)(4.077,8.17)(4.046,7.88)(4.019,7.82)(3.904,7.79)(3.935,7.77)(4.038,7.55)};
\end{axis}
% panel d
\begin{axis}[at={(479pt,-831.5pt)},anchor=north west,scale only axis,width=370.5pt,height=253pt,
 xmin=0,xmax=1,ymin=.5,ymax=5.5,y dir=reverse,hide axis,xbar stacked,bar width=48.5pt]
\addplot[fill=d0,draw=none] coordinates {(.8346,1)(.605,2)(.6805,3)(.790,4)(.7186,5)};
\addplot[fill=d1,draw=none] coordinates {(.1238,1)(.240,2)(.191,3)(.137,4)(.183,5)};
\addplot[fill=d2,draw=none] coordinates {(.0242,1)(.081,2)(.066,3)(.040,4)(.0545,5)};
\addplot[fill=d3,draw=none] coordinates {(.012,1)(.052,2)(.045,3)(.024,4)(.029,5)};
\addplot[fill=d4,draw=none] coordinates {(.0054,1)(.022,2)(.0175,3)(.0095,4)(.0149,5)};
\end{axis}
\begin{scope}[x=.5pt,y=-.5pt]
% dendrogram
\Tree
% panel letters
\T{27}{80}{\bfseries\fs{41}a}
\T{969}{80}{\bfseries\fs{41}b}
\T{969}{858}{\bfseries\fs{41}c}
\T{972}{1635}{\bfseries\fs{41}d}
% legend a
\T{112}{46}{\bfseries\fs{16}\LS{5}tissue \&}
\T{112}{81}{\bfseries\fs{16}\LS{5}disease type}
\fill[ic] (504,49) circle (29);\fill[iu] (584.5,49) circle (29);
\fill[rc] (790,49) circle (29);\fill[ru] (871,49) circle (29);
\T{400}{66}{\fs{14}\LS{6}ileum}
\T{667}{64}{\fs{14}\LS{6}rectum}
\TC{504}{67}{\color{white}\fs{14.5}CD}\TC{584.5}{67}{\color{white}\fs{14.5}UC}
\TC{790}{67}{\color{white}\fs{14.5}CD}\TC{871}{67}{\color{white}\fs{14.5}UC}
\T{46}{146}{\bfseries\fs{18}\LS{7}ancestry}
\fill[ea] (304.6,135) circle (18);\fill[aa] (481,135) circle (18);
\T{356}{149}{\fs{15.5}EA}\T{531}{149}{\fs{15.5}AA}
\T{676}{134}{\bfseries\fs{18}\LS{8}rna cluster}
\draw[black,line width=2pt] (670,167) circle (14);
\fill[black] (655,193) rectangle (687,222);
\fill[black] (655,258)--(687,258)--(671,230)--cycle;
\T{695}{180}{\fs{14}\LS{7}differentiated}
\T{695}{222}{\fs{14}\LS{7}intermediate}
\T{695}{255}{\fs{14}\LS{7}spliceopathy}
% legend b
\draw[bi,line width=2pt] (1068,38)--(1117,38);\draw[bi,fill=white,line width=2.5pt] (1092,38) circle (8);
\draw[bi,line width=3pt] (1068,75)--(1117,75);\fill[bi] (1084,67) rectangle (1100,83);
\draw[bs,line width=3pt] (1360,39)--(1411,39);\fill[bs] (1376,48)--(1394,48)--(1385,29)--cycle;
\draw[br,line width=2pt] (1868,38)--(1918,38);\draw[br,fill=white,line width=2.5pt] (1893,38) circle (8);
\draw[br,line width=3pt] (1868,74)--(1918,74);\fill[br] (1885,66) rectangle (1901,82);
\T{1133}{50}{\fs{16}ileum}\T{1133}{87}{\fs{16}intermediate ileum}
\T{1430}{50}{\fs{16}spliceopathy}
\TR{1858}{50}{\fs{16}rectum}\TR{1852}{87}{\fs{16}intermediate rectum}
\node[rotate=90,inner sep=0pt] at (978,298) {\fs{15.5}Average PSI};
% gene model
\foreach \a/\b/\c/\d in {1138/480/1217/507,1275/487/1258/509,1420/487/1406/507,1559/487/1525/511,1715/485/1865/510,1856/483/1890/507}
 \draw[gr,line width=1pt,dash pattern=on 5pt off 3pt] (\a,\b)--(\c,\d);
\draw[black,line width=2pt] (1182,528)--(1922,528);
\draw[black,fill=white,line width=1.8pt] (1214,516) rectangle (1300,541);
\draw[black,line width=1.8pt] (1230,516)--(1230,541);
\draw[black,fill=white,line width=1.8pt] (1376,516) rectangle (1447,541);
\draw[black,fill=white,line width=1.8pt] (1515,516) rectangle (1538,541);
\draw[black,fill=white,line width=1.8pt] (1848,516) rectangle (1906,541);
\draw[black,line width=1.8pt] (1876,516)--(1876,541);
\T{970}{531}{\bfseries\fs{20}CEACAM1}
\T{975}{558}{\color{grl}\fs{13.5}collapsed gene}
\T{981}{589}{\fs{15.2}CEACAM1-207}\T{981}{619}{\fs{15.2}CEACAM1-201}\T{981}{649}{\fs{15.2}CEACAM1-203}
\T{981}{679}{\fs{15.2}CEACAM1-208}\T{981}{709}{\fs{15.2}CEACAM1-212}\T{981}{739}{\fs{15.2}CEACAM1-209}
% legend c
\T{1077}{823}{\bfseries\fs{17}\LS{7}tissue \&}
\T{1077}{864}{\bfseries\fs{17}\LS{7}disease type}
\fill[ic] (1497,833) circle (29);\fill[iu] (1578,833) circle (29);
\fill[rc] (1783,833) circle (29);\fill[ru] (1863,833) circle (29);
\T{1393}{850}{\fs{14}\LS{6}ileum}\T{1659}{849}{\fs{14}\LS{6}rectum}
\TC{1497}{851}{\color{white}\fs{14.5}CD}\TC{1578}{851}{\color{white}\fs{14.5}UC}
\TC{1783}{851}{\color{white}\fs{14.5}CD}\TC{1863}{851}{\color{white}\fs{14.5}UC}
\node[rotate=90,inner sep=0pt] at (978,1181) {\bfseries\color{tg}\fs{14}log2(1+CPM)};
% panel d text
\TR{1685}{1606}{\bfseries\fs{20}\LS{8.5}Frequency}
\TR{1688}{1652}{\fs{14}\LS{7.5}(as a proportion of total analyzed sites)}
\foreach \t/\a/\b in {1665/rectum/ileum,1766/spliceopathy/ileum,1867/spliceopathy/rectum,1968/intermediate ileum/ileum,2070/intermediate rectum/rectum}{
 \pgfmathsetmacro\ya{\t+34}\pgfmathsetmacro\yv{\t+61}\pgfmathsetmacro\yb{\t+88}
 \T{999}{\ya}{\fs{15}\a}\T{999}{\yv}{\color{grl}\fs{15}vs}\T{999}{\yb}{\fs{15}\b}}
\T{1744}{1604}{\bfseries\fs{14}\LS{7}difference}
\T{1744}{1635}{\bfseries\fs{14}\LS{7}in average}
\T{1744}{1671}{\bfseries\fs{14}\LS{7}psi at}
\T{1744}{1703}{\bfseries\fs{14}\LS{7}each site}
\fill[d0] (1744,1754) rectangle (1794,1802);\fill[d1] (1744,1829) rectangle (1794,1878);
\fill[d2] (1744,1899.5) rectangle (1794,1948);\fill[d3] (1744,1973) rectangle (1794,2021);
\fill[d4] (1744,2045) rectangle (1794,2094);\fill[d5] (1744,2116) rectangle (1794,2165);
\TR{1907}{1792}{\fs{14.5}0-5\%}\TR{1907}{1866}{\fs{14.5}5-10\%}\TR{1907}{1939}{\fs{14.5}10-15\%}
\TR{1907}{2012}{\fs{14.5}15-25\%}\TR{1907}{2085}{\fs{14.5}25-50\%}\TR{1907}{2156}{\fs{14.5}> 50\%}
\end{scope}
\end{tikzpicture}
\end{document}
